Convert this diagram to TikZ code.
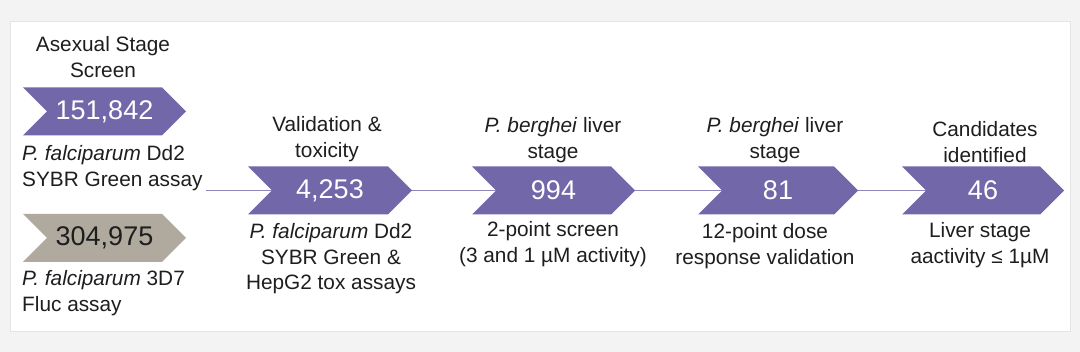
\documentclass[tikz,border=0pt]{standalone}
\usepackage{fontspec}
\setmainfont{Liberation Sans}
\usetikzlibrary{shapes.symbols,backgrounds}
\definecolor{chev}{HTML}{7267A8}
\definecolor{chevgray}{HTML}{B0AA9E}
\definecolor{linec}{HTML}{8E87BE}
\definecolor{bgc}{HTML}{F3F3F3}
\definecolor{cardedge}{HTML}{E4E4E4}
\definecolor{txt}{HTML}{1E1E1E}
\tikzset{
  chevron/.style={shape=signal, signal from=west, signal to=east,
    signal pointer angle=90, fill=chev, draw=none, text=white,
    minimum height=48pt, inner sep=0pt,
    font=\fontsize{27}{30}\selectfont},
  label/.style={text=txt, align=center, inner sep=0pt,
    font=\fontsize{20.8}{25.5}\selectfont},
  leftlabel/.style={label, align=left},
  link/.style={draw=linec, line width=1.2pt}
}
\begin{document}
\begin{tikzpicture}[x=1pt,y=-1pt]
\useasboundingbox (0,0) rectangle (1080,352);

% chevrons
\node[chevron, minimum width=163pt] (c1) at (104.5,111.5) {151,842};
\node[chevron, minimum width=163pt, fill=chevgray, text=txt] (c2) at (104.5,238) {304,975};
\node[chevron, minimum width=164pt] (c3) at (330,190.5) {4,253};
\node[chevron, minimum width=163pt] (c4) at (553.5,190.5) {994};
\node[chevron, minimum width=160pt] (c5) at (778,190.5) {81};
\node[chevron, minimum width=162pt] (c6) at (983,190.5) {46};

% labels
\node[label] (t1) at (103,57) {Asexual Stage\\Screen};
\node[leftlabel, anchor=west] (b1) at (22,168) {\textit{P. falciparum} Dd2\\SYBR Green assay};
\node[leftlabel, anchor=west] (b2) at (22,293) {\textit{P. falciparum} 3D7\\Fluc assay};
\node[label] (t3) at (327,139) {Validation \&\\toxicity};
\node[label] (b3) at (331,259) {\textit{P. falciparum} Dd2\\SYBR Green \&\\HepG2 tox assays};
\node[label] (t4) at (553,140) {\textit{P. berghei} liver\\stage};
\node[label] (b4) at (553,244) {2-point screen\\(3 and 1 µM activity)};
\node[label] (t5) at (775,140) {\textit{P. berghei} liver\\stage};
\node[label] (b5) at (765,246) {12-point dose\\response validation};
\node[label] (t6) at (985,142) {Candidates\\identified};
\node[label] (b6) at (980,245) {Liver stage\\aactivity ≤ 1µM};

\coordinate (s1) at (206,190.5);
\begin{scope}[on background layer]
\fill[bgc] (0,0) rectangle (1080,352);
\draw[cardedge, fill=white, line width=0.8pt] (10,21) rectangle (1070,331);
\draw[link] (s1) -- (c3.center);
\draw[link] (c3.center) -- (c4.center);
\draw[link] (c4.center) -- (c5.center);
\draw[link] (c5.center) -- (c6.center);
\end{scope}
\end{tikzpicture}
\end{document}
